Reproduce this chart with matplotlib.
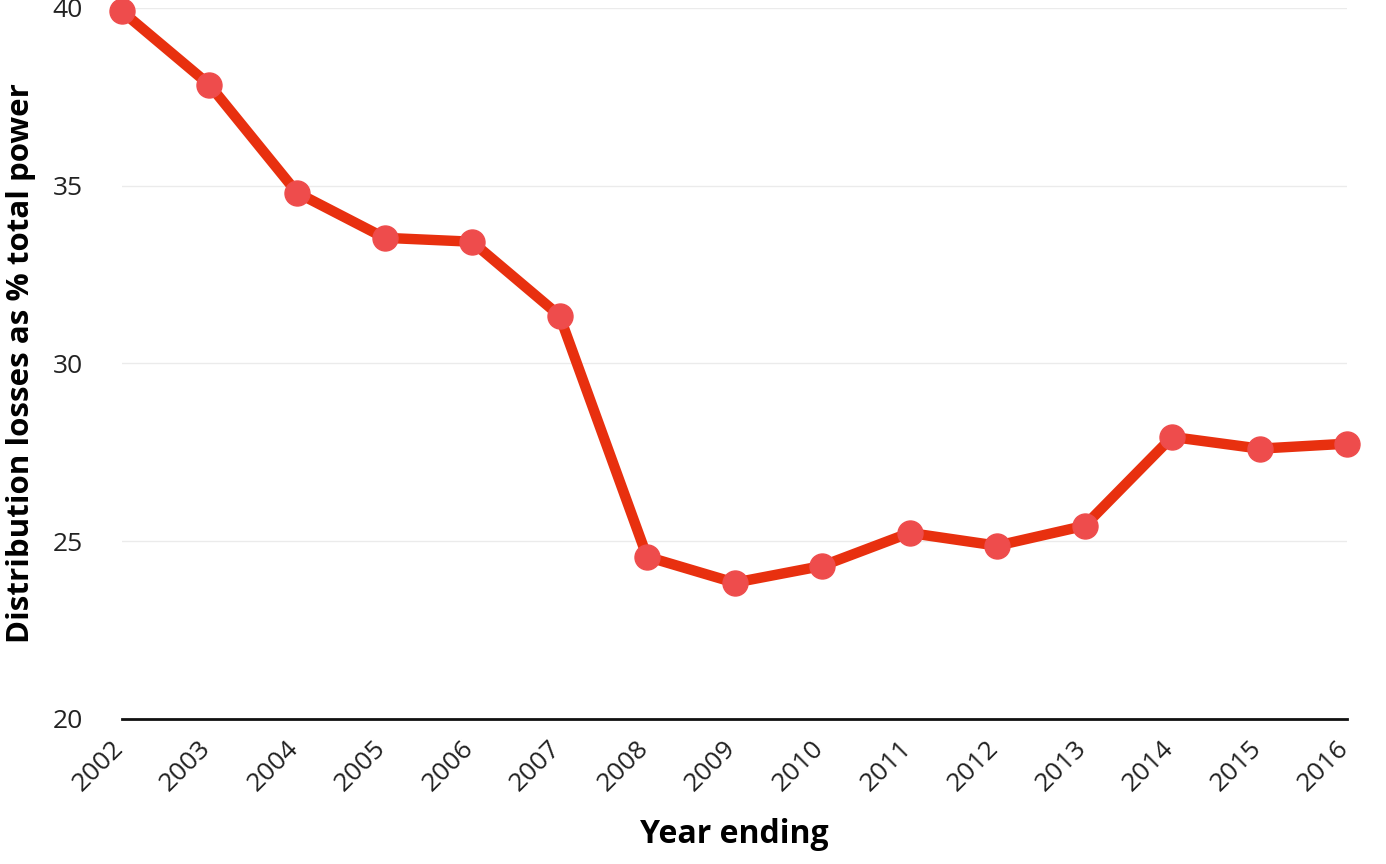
import matplotlib.pyplot as plt
import matplotlib.transforms as mtransforms

years = ['2002', '2003', '2004', '2005', '2006', '2007', '2008', '2009',
         '2010', '2011', '2012', '2013', '2014', '2015', '2016']
losses = [39.9, 37.83, 34.8, 33.53, 33.42, 31.34, 24.56, 23.83,
          24.3, 25.23, 24.87, 25.43, 27.93, 27.6, 27.74]

plt.rcParams['font.family'] = ['Open Sans', 'DejaVu Sans']

fig = plt.figure(figsize=(13.86, 8.64), dpi=100)
ax = fig.add_axes([0.088, 0.168, 0.884, 0.823])

x = list(range(len(years)))
ax.plot(x, losses, '-', color='#e8300f', lw=7.5, zorder=3, solid_capstyle='round', clip_on=False)
ax.plot(x, losses, 'o', color='#ee4c4c', ms=18, zorder=4, clip_on=False)

ax.set_xlim(0, len(years) - 1)
ax.set_ylim(20, 40)
ax.set_yticks([20, 25, 30, 35, 40])
ax.set_xticks(x)
ax.set_xticklabels(years, rotation=45, ha='right', rotation_mode='anchor')
ax.tick_params(axis='both', length=0, labelsize=19, colors='#222222')
ax.tick_params(axis='y', pad=28)
ax.tick_params(axis='x', pad=12)

# nudge rotated year labels a bit left, like the original
shift = mtransforms.ScaledTranslation(-0.11, 0, fig.dpi_scale_trans)
for lab in ax.get_xticklabels():
    lab.set_transform(lab.get_transform() + shift)

for s in ['top', 'right', 'left']:
    ax.spines[s].set_visible(False)
ax.spines['bottom'].set_color('#111111')
ax.spines['bottom'].set_linewidth(2)
ax.yaxis.grid(True, color='#ebebeb', lw=1)
ax.set_axisbelow(True)

ax.set_ylabel('Distribution losses as % total power', fontsize=22.5, fontweight='bold', labelpad=12)
ax.set_xlabel('Year ending', fontsize=23, fontweight='bold', labelpad=16)

plt.savefig('out.png', dpi=100)
